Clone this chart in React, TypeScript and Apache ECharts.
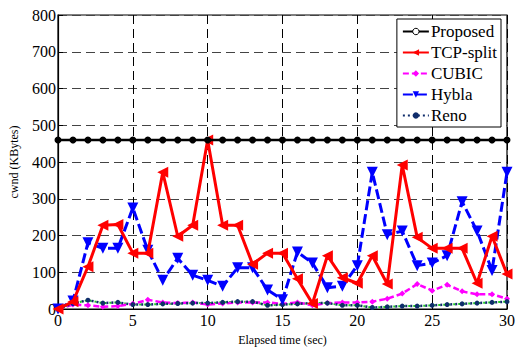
import React, { useEffect, useRef } from "react";
import * as echarts from "echarts";

const times = Array.from({ length: 31 }, (_, i) => i);
const proposed = [460,460,460,460,460,460,460,460,460,460,460,460,460,460,460,460,460,460,460,460,460,460,460,460,460,460,460,460,460,460,460];
const tcpSplit = [0,20,115,228,230,152,152,372,198,228,460,228,228,122,152,152,82,15,145,85,70,145,68,392,195,165,165,165,70,198,95];
const cubic = [0,12,10,6,8,14,25,18,16,18,12,15,18,18,18,14,18,10,16,18,18,20,28,42,68,50,66,48,40,40,28];
const hybla = [0,22,180,165,165,275,160,78,138,92,78,62,112,112,52,25,155,125,58,62,118,372,202,212,118,125,145,292,212,105,372];
const reno = [0,15,24,16,18,12,12,14,15,16,16,18,20,20,10,12,14,16,16,10,10,4,6,8,8,10,12,14,16,18,20];

const FONT = "Liberation Serif";

const pts = (arr: number[]) => arr.map((v, i) => [times[i], v]);

export default function App() {
  const ref = useRef<HTMLDivElement>(null);
  useEffect(() => {
    document.body.style.margin = "0";
    if (!ref.current) return;
    const chart = echarts.init(ref.current, null, { renderer: "svg" });
    chart.setOption({
      animation: false,
      backgroundColor: "#fff",
      textStyle: { fontFamily: FONT },
      grid: {
        left: 56, right: 23, top: 15, bottom: 34,
        show: true, borderColor: "#000", borderWidth: 1.2, backgroundColor: "transparent",
      },
      legend: {
        right: 29, top: 19, orient: "vertical",
        backgroundColor: "#fff", borderColor: "#000", borderWidth: 1,
        padding: [4, 4, 3, 5], itemGap: 4, itemWidth: 26, itemHeight: 8,
        textStyle: { fontFamily: FONT, fontSize: 17, color: "#000", padding: [0, 0, 0, -3] },
        data: [
          { name: "Proposed", itemStyle: { color: "#fff", borderColor: "#000", borderWidth: 1 } },
          { name: "TCP-split" },
          { name: "CUBIC" },
          { name: "Hybla" },
          { name: "Reno" },
        ],
      },
      xAxis: {
        type: "value", min: 0, max: 30, interval: 5,
        name: "Elapsed time (sec)", nameLocation: "middle", nameGap: 25,
        nameTextStyle: { fontFamily: FONT, fontSize: 12, color: "#000" },
        axisLine: { show: true, lineStyle: { color: "#000", width: 1.2 } },
        axisTick: { show: true, inside: true, length: 5, lineStyle: { color: "#000" } },
        axisLabel: { fontFamily: FONT, fontSize: 16, color: "#000", margin: 3 },
        splitLine: { show: true, lineStyle: { color: "#000", type: [9, 5], width: 1 } },
      },
      yAxis: {
        type: "value", min: 0, max: 800, interval: 100,
        name: "cwnd (KBytes)", nameLocation: "middle", nameGap: 38,
        nameTextStyle: { fontFamily: FONT, fontSize: 12, color: "#000" },
        axisLine: { show: true, lineStyle: { color: "#000", width: 1.2 } },
        axisTick: { show: true, inside: true, length: 5, lineStyle: { color: "#000" } },
        axisLabel: { fontFamily: FONT, fontSize: 16, color: "#000", margin: 2 },
        splitLine: { show: true, lineStyle: { color: "#444", type: [9, 5], width: 1 } },
      },
      series: [
        {
          name: "Proposed", type: "line", data: pts(proposed),
          symbol: "circle", symbolSize: 7,
          lineStyle: { color: "#000", width: 2.5 }, itemStyle: { color: "#000" }, z: 5,
        },
        {
          name: "Reno-green", type: "line", data: pts(reno), symbol: "none",
          lineStyle: { color: "#22cc22", width: 2, type: [2, 3], dashOffset: 2 }, z: 2,
        },
        {
          name: "Reno", type: "line", data: pts(reno),
          symbol: "circle", symbolSize: 5,
          lineStyle: { color: "#0f2d6b", width: 2.5, type: [2, 3] }, itemStyle: { color: "#0f2d6b" }, z: 3,
        },
        {
          name: "CUBIC", type: "line", data: pts(cubic),
          symbol: "diamond", symbolSize: 6,
          lineStyle: { color: "#ff00ff", width: 2.5, type: [6, 3] }, itemStyle: { color: "#ff00ff" }, z: 2,
        },
        {
          name: "Hybla", type: "line", data: pts(hybla),
          symbol: "triangle", symbolRotate: 180, symbolSize: 11,
          lineStyle: { color: "#0000ff", width: 3, type: [10, 4] }, itemStyle: { color: "#0000ff" }, z: 3,
        },
        {
          name: "TCP-split", type: "line", data: pts(tcpSplit),
          symbol: "triangle", symbolRotate: 90, symbolSize: 11,
          lineStyle: { color: "#ff0000", width: 3 }, itemStyle: { color: "#ff0000" }, z: 4,
        },
      ],
    });
    return () => chart.dispose();
  }, []);
  return <div ref={ref} style={{ width: 530, height: 351 }} />;
}
